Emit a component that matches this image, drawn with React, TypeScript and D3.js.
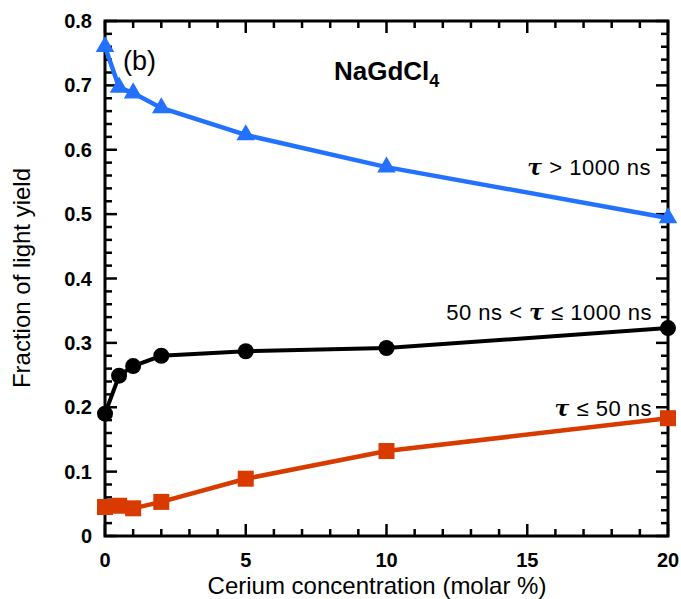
import React from "react";
import * as d3 from "d3";

const conc = [0, 0.5, 1, 2, 5, 10, 20];
const slowFrac = [0.76, 0.697, 0.688, 0.665, 0.623, 0.573, 0.494];
const midFrac = [0.19, 0.249, 0.264, 0.28, 0.287, 0.292, 0.323];
const fastFrac = [0.045, 0.047, 0.043, 0.053, 0.089, 0.132, 0.183];
const xTicks = [0, 5, 10, 15, 20];
const yTicks = [0, 0.1, 0.2, 0.3, 0.4, 0.5, 0.6, 0.7, 0.8];

const W = 681, H = 599;
const L = 105, R = 668, T = 21, B = 536;

export default function App() {
  const x = d3.scaleLinear().domain([0, 20]).range([L, R]);
  const y = d3.scaleLinear().domain([0, 0.8]).range([B, T]);
  const line = d3.line<number>().x((_, i) => x(conc[i])).y((d) => y(d)).curve(d3.curveLinear);
  const xMinor = d3.range(0, 21, 1);
  const yMinor = d3.range(0, 0.801, 0.02);
  const font = "'Liberation Sans', Arial, sans-serif";
  const blue = "#2271ff";
  const red = "#d83a00";
  const tri = d3.symbol().type(d3.symbolTriangle).size(150)();
  const tau = { fontFamily: "'DejaVu Serif', serif", fontStyle: "italic", fontWeight: "bold" } as const;

  return (
    <svg width={W} height={H} style={{ position: "absolute", left: 0, top: 0 }}>
      <rect width={W} height={H} fill="#fff" />
      {xMinor.map((v) => {
        const major = v % 5 === 0;
        const len = major ? 12 : 7;
        return (
          <g key={"x" + v} stroke="#000" strokeWidth={2.5}>
            <line x1={x(v)} x2={x(v)} y1={B} y2={B - len} />
            <line x1={x(v)} x2={x(v)} y1={T} y2={T + len} />
          </g>
        );
      })}
      {yMinor.map((v, i) => {
        const major = i % 5 === 0;
        const len = major ? 12 : 7;
        return (
          <g key={"y" + i} stroke="#000" strokeWidth={2.5}>
            <line x1={L} x2={L + len} y1={y(v)} y2={y(v)} />
            <line x1={R} x2={R - len} y1={y(v)} y2={y(v)} />
          </g>
        );
      })}
      <rect x={L} y={T} width={R - L} height={B - T} fill="none" stroke="#000" strokeWidth={3} />
      {xTicks.map((v) => (
        <text key={"xl" + v} x={x(v)} y={567} textAnchor="middle" fontFamily={font} fontWeight="bold" fontSize={20}>
          {v}
        </text>
      ))}
      {yTicks.map((v) => (
        <text key={"yl" + v} x={92} y={y(v) + 7} textAnchor="end" fontFamily={font} fontWeight="bold" fontSize={20}>
          {v === 0 ? "0" : v.toFixed(1)}
        </text>
      ))}
      <text x={377} y={594} textAnchor="middle" fontFamily={font} fontSize={24}>
        Cerium concentration (molar %)
      </text>
      <text transform={`translate(30,278) rotate(-90)`} textAnchor="middle" fontFamily={font} fontSize={24}>
        Fraction of light yield
      </text>
      <path d={line(slowFrac) || ""} fill="none" stroke={blue} strokeWidth={4.5} />
      <path d={line(midFrac) || ""} fill="none" stroke="#000" strokeWidth={4} />
      <path d={line(fastFrac) || ""} fill="none" stroke={red} strokeWidth={4.5} />
      {slowFrac.map((v, i) => (
        <path key={"t" + i} d={tri || ""} transform={`translate(${x(conc[i])},${y(v)})`} fill={blue} />
      ))}
      {midFrac.map((v, i) => (
        <circle key={"c" + i} cx={x(conc[i])} cy={y(v)} r={8} fill="#000" />
      ))}
      {fastFrac.map((v, i) => (
        <rect key={"s" + i} x={x(conc[i]) - 8} y={y(v) - 8} width={16} height={16} fill={red} />
      ))}
      <text x={123} y={70} fontFamily={font} fontSize={27}>(b)</text>
      <text x={334} y={80} fontFamily={font} fontWeight="bold" fontSize={26}>
        NaGdCl<tspan fontSize={18} dy={7}>4</tspan>
      </text>
      <text x={651} y={175} textAnchor="end" fontFamily={font} fontSize={22} letterSpacing={0.5}>
        <tspan {...tau}>τ</tspan>{"  > 1000 ns"}
      </text>
      <text x={652} y={320} textAnchor="end" fontFamily={font} fontSize={22} letterSpacing={0.5}>
        {"50 ns  < "}<tspan {...tau}>τ</tspan>{" ≤  1000 ns"}
      </text>
      <text x={652} y={416} textAnchor="end" fontFamily={font} fontSize={22} letterSpacing={0.5}>
        <tspan {...tau}>τ</tspan>{" ≤  50 ns"}
      </text>
    </svg>
  );
}
